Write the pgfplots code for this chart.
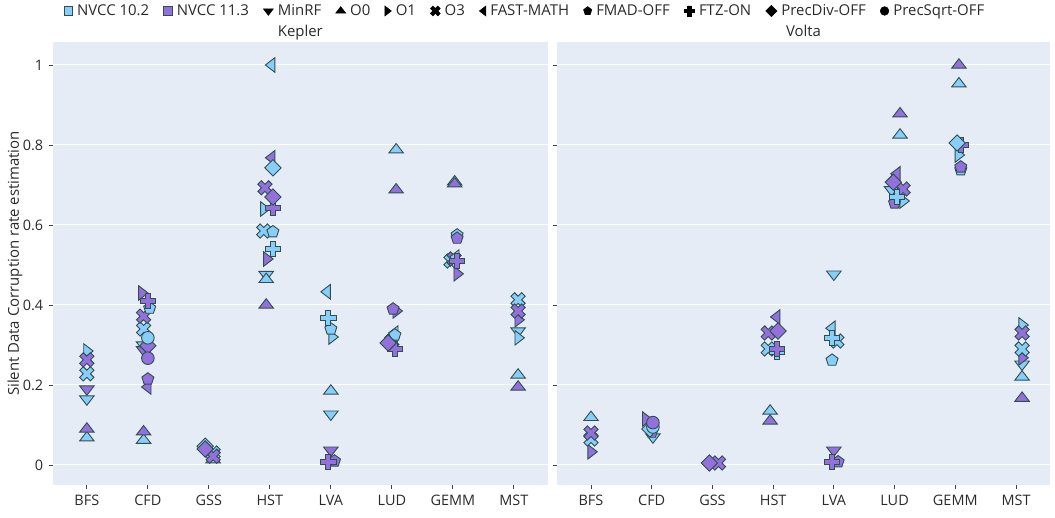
\documentclass[border=0pt]{standalone}
\usepackage{fontspec}
\setmainfont{Open Sans}
\usepackage{pgfplots}
\pgfplotsset{compat=1.18}
\definecolor{nvb}{HTML}{87CEFA}
\definecolor{nvp}{HTML}{9370DB}
\definecolor{outl}{HTML}{2F4F4F}
\definecolor{bgc}{HTML}{E5ECF6}
\definecolor{txt}{HTML}{2A2A2A}
\definecolor{tickc}{HTML}{444444}
\newcommand\MR[1]{#1\pgfplotmarksize}
\pgfdeclareplotmark{tdn}{\pgfpathmoveto{\pgfpoint{\MR{-1.1547}}{\MR{0.5}}}\pgfpathlineto{\pgfpoint{\MR{1.1547}}{\MR{0.5}}}\pgfpathlineto{\pgfpoint{0pt}{\MR{-1}}}\pgfpathclose\pgfusepathqfillstroke}
\pgfdeclareplotmark{tup}{\pgfpathmoveto{\pgfpoint{\MR{-1.1547}}{\MR{-0.5}}}\pgfpathlineto{\pgfpoint{\MR{1.1547}}{\MR{-0.5}}}\pgfpathlineto{\pgfpoint{0pt}{\MR{1}}}\pgfpathclose\pgfusepathqfillstroke}
\pgfdeclareplotmark{trt}{\pgfpathmoveto{\pgfpoint{\MR{-0.5}}{\MR{1.1547}}}\pgfpathlineto{\pgfpoint{\MR{-0.5}}{\MR{-1.1547}}}\pgfpathlineto{\pgfpoint{\MR{1}}{0pt}}\pgfpathclose\pgfusepathqfillstroke}
\pgfdeclareplotmark{tlt}{\pgfpathmoveto{\pgfpoint{\MR{0.5}}{\MR{1.1547}}}\pgfpathlineto{\pgfpoint{\MR{0.5}}{\MR{-1.1547}}}\pgfpathlineto{\pgfpoint{\MR{-1}}{0pt}}\pgfpathclose\pgfusepathqfillstroke}
\pgfdeclareplotmark{xsh}{\pgfpathmoveto{\pgfpoint{0pt}{\MR{0.566}}}%
\pgfpathlineto{\pgfpoint{\MR{-0.566}}{\MR{1.132}}}\pgfpathlineto{\pgfpoint{\MR{-1.132}}{\MR{0.566}}}%
\pgfpathlineto{\pgfpoint{\MR{-0.566}}{0pt}}\pgfpathlineto{\pgfpoint{\MR{-1.132}}{\MR{-0.566}}}%
\pgfpathlineto{\pgfpoint{\MR{-0.566}}{\MR{-1.132}}}\pgfpathlineto{\pgfpoint{0pt}{\MR{-0.566}}}%
\pgfpathlineto{\pgfpoint{\MR{0.566}}{\MR{-1.132}}}\pgfpathlineto{\pgfpoint{\MR{1.132}}{\MR{-0.566}}}%
\pgfpathlineto{\pgfpoint{\MR{0.566}}{0pt}}\pgfpathlineto{\pgfpoint{\MR{1.132}}{\MR{0.566}}}%
\pgfpathlineto{\pgfpoint{\MR{0.566}}{\MR{1.132}}}\pgfpathclose\pgfusepathqfillstroke}
\pgfdeclareplotmark{pls}{\pgfpathmoveto{\pgfpoint{\MR{1.2}}{\MR{0.4}}}%
\pgfpathlineto{\pgfpoint{\MR{0.4}}{\MR{0.4}}}\pgfpathlineto{\pgfpoint{\MR{0.4}}{\MR{1.2}}}%
\pgfpathlineto{\pgfpoint{\MR{-0.4}}{\MR{1.2}}}\pgfpathlineto{\pgfpoint{\MR{-0.4}}{\MR{0.4}}}%
\pgfpathlineto{\pgfpoint{\MR{-1.2}}{\MR{0.4}}}\pgfpathlineto{\pgfpoint{\MR{-1.2}}{\MR{-0.4}}}%
\pgfpathlineto{\pgfpoint{\MR{-0.4}}{\MR{-0.4}}}\pgfpathlineto{\pgfpoint{\MR{-0.4}}{\MR{-1.2}}}%
\pgfpathlineto{\pgfpoint{\MR{0.4}}{\MR{-1.2}}}\pgfpathlineto{\pgfpoint{\MR{0.4}}{\MR{-0.4}}}%
\pgfpathlineto{\pgfpoint{\MR{1.2}}{\MR{-0.4}}}\pgfpathclose\pgfusepathqfillstroke}
\pgfdeclareplotmark{pent}{\pgfpathmoveto{\pgfpoint{\MR{0.951}}{\MR{0.309}}}%
\pgfpathlineto{\pgfpoint{\MR{0.588}}{\MR{-0.809}}}\pgfpathlineto{\pgfpoint{\MR{-0.588}}{\MR{-0.809}}}%
\pgfpathlineto{\pgfpoint{\MR{-0.951}}{\MR{0.309}}}\pgfpathlineto{\pgfpoint{0pt}{\MR{1}}}\pgfpathclose\pgfusepathqfillstroke}
\pgfdeclareplotmark{dia}{\pgfpathmoveto{\pgfpoint{\MR{1.3}}{0pt}}\pgfpathlineto{\pgfpoint{0pt}{\MR{1.3}}}\pgfpathlineto{\pgfpoint{\MR{-1.3}}{0pt}}\pgfpathlineto{\pgfpoint{0pt}{\MR{-1.3}}}\pgfpathclose\pgfusepathqfillstroke}
\pgfdeclareplotmark{circ}{\pgfpathcircle{\pgfpointorigin}{\pgfplotmarksize}\pgfusepathqfillstroke}
\pgfdeclareplotmark{sq}{\pgfpathrectanglecorners{\pgfpoint{\MR{-1}}{\MR{-1}}}{\pgfpoint{\MR{1}}{\MR{1}}}\pgfusepathqfillstroke}

\newcommand\ser[3]{\addplot[only marks, forget plot, mark=#2, fill=#1, draw=outl, line width=0.9bp, mark size=6.3bp] coordinates {#3};}
\newcommand\lgimg[3]{\addlegendimage{only marks, mark=#1, fill=#2, draw=#3, line width=0.6bp, mark size=4.3bp}}

\pgfplotsset{
  base/.style={scale only axis, height=443bp,
    ymin=-0.05, ymax=1.0575, xmin=-0.56, xmax=7.56,
    xtick={0,1,2,3,4,5,6,7}, xticklabels={BFS,CFD,GSS,HST,LVA,LUD,GEMM,MST},
    ytick={0,0.2,0.4,0.6,0.8,1},
    ymajorgrids, grid style={white, line width=1bp},
    axis line style={draw=none},
    axis background/.style={fill=bgc},
    tick align=outside, major tick length=4bp,
    tick style={color=tickc, line width=0.8bp},
    xtick pos=bottom, ytick pos=left,
    /pgf/number format/assume math mode=true,
    ticklabel style={font=\fontsize{14.5}{17}\selectfont, text=txt},
    xticklabel style={yshift=-3bp},
    yticklabel style={xshift=-2bp},
    title style={at={(0.5,1)}, anchor=base, yshift=0bp, font=\fontsize{15}{18}\selectfont, text=txt},
    legend image code/.code={\draw[##1] plot coordinates {(0bp,0bp)};},
  }
}

\begin{document}
\begin{tikzpicture}
\useasboundingbox (-52.7bp,-33bp) rectangle (1002.3bp,485bp);
\begin{axis}[base, width=495.3bp, title={Kepler},
  ylabel={Silent Data Corruption rate estimation},
  ylabel style={at={(axis description cs:-0.076,0.5)}, anchor=center, font=\fontsize{15}{18}\selectfont, text=txt},
  legend columns=-1,
  legend style={at={(0.023,1.07)}, anchor=west, draw=none, fill=none, inner sep=0pt, outer sep=0pt,
    font=\fontsize{15}{18}\selectfont, text=txt,
    nodes={inner xsep=0pt, inner ysep=1bp},
    /tikz/every odd column/.append style={column sep=4.5bp},
    /tikz/every even column/.append style={column sep=14.5bp}},
]
\lgimg{sq}{nvb}{outl}\addlegendentry{NVCC 10.2}
\lgimg{sq}{nvp}{outl}\addlegendentry{NVCC 11.3}
\lgimg{tdn}{black}{black}\addlegendentry{MinRF}
\lgimg{tup}{black}{black}\addlegendentry{O0}
\lgimg{trt}{black}{black}\addlegendentry{O1}
\lgimg{xsh}{black}{black}\addlegendentry{O3}
\lgimg{tlt}{black}{black}\addlegendentry{FAST-MATH}
\lgimg{pent}{black}{black}\addlegendentry{FMAD-OFF}
\lgimg{pls}{black}{black}\addlegendentry{FTZ-ON}
\lgimg{dia}{black}{black}\addlegendentry{PrecDiv-OFF}
\lgimg{circ}{black}{black}\addlegendentry{PrecSqrt-OFF}
% MinRF
\ser{nvb}{tdn}{(0,0.165) (0.93,0.30) (2.94,0.476) (4,0.127) (7.07,0.335)}
\ser{nvp}{tdn}{(0,0.19) (0.93,0.288) (4,0.037)}
% O0
\ser{nvb}{tup}{(0,0.068) (0.93,0.062) (2.07,0.013) (2.94,0.464) (4,0.185) (5.07,0.788) (6.03,0.708) (7.07,0.225)}
\ser{nvp}{tup}{(0,0.09) (0.93,0.083) (2.94,0.40) (5.07,0.688) (6.03,0.703) (7.07,0.195)}
% O1
\ser{nvb}{trt}{(0,0.285) (2.9,0.64) (4.02,0.32) (7.07,0.318)}
\ser{nvp}{trt}{(0.9,0.43) (2.95,0.515) (5.07,0.385) (6.07,0.478) (7.07,0.363)}
% O3
\ser{nvb}{xsh}{(0,0.228) (0.93,0.34) (2.07,0.03) (2.9,0.585) (5.0,0.31) (5.97,0.51) (7.07,0.413)}
\ser{nvp}{xsh}{(0,0.263) (0.93,0.372) (2.07,0.022) (2.92,0.693) (6.02,0.515) (7.07,0.385)}
% FAST-MATH
\ser{nvb}{tlt}{(3.03,1.0) (3.94,0.433) (5.05,0.33) (6.05,0.52)}
\ser{nvp}{tlt}{(1.0,0.195) (3.03,0.768)}
% FMAD-OFF
\ser{nvb}{pent}{(1.03,0.392) (3.05,0.583) (4,0.34) (5.05,0.325) (6.07,0.575)}
\ser{nvp}{pent}{(1.0,0.215) (4.06,0.01) (5.02,0.39) (6.07,0.567)}
% FTZ-ON
\ser{nvb}{pls}{(3.05,0.54) (3.96,0.368)}
\ser{nvp}{pls}{(1.0,0.41) (3.05,0.643) (3.96,0.008) (5.05,0.29) (6.07,0.51)}
% PrecDiv-OFF
\ser{nvb}{dia}{(1.94,0.047) (3.05,0.743)}
\ser{nvp}{dia}{(1.0,0.298) (1.94,0.04) (3.05,0.67) (4.94,0.305)}
% PrecSqrt-OFF
\ser{nvb}{circ}{(1.0,0.318)}
\ser{nvp}{circ}{(1.0,0.267)}
\end{axis}

\begin{axis}[base, width=493bp, xshift=504.3bp, yticklabels={}, title={Volta}]
% MinRF
\ser{nvb}{tdn}{(1.02,0.07) (4,0.477) (4.95,0.688) (7.1,0.252)}
\ser{nvp}{tdn}{(4,0.037)}
% O0
\ser{nvb}{tup}{(0,0.119) (2.95,0.135) (5.09,0.825) (6.06,0.953) (7.1,0.22)}
\ser{nvp}{tup}{(2.95,0.11) (5.09,0.878) (6.06,1.0) (7.1,0.167)}
% O1
\ser{nvb}{trt}{(5.14,0.66) (6.05,0.775) (7.1,0.35)}
\ser{nvp}{trt}{(0,0.033) (0.9,0.115) (7.1,0.268)}
% O3
\ser{nvb}{xsh}{(0,0.065) (2.92,0.29) (4.05,0.31) (7.1,0.29)}
\ser{nvp}{xsh}{(0,0.08) (2.1,0.005) (2.92,0.33) (5.14,0.69) (7.1,0.33)}
% FAST-MATH
\ser{nvb}{tlt}{(3.97,0.342)}
\ser{nvp}{tlt}{(3.06,0.37) (5.04,0.728)}
% FMAD-OFF
\ser{nvb}{pent}{(1.0,0.088) (3.97,0.262) (6.09,0.738)}
\ser{nvp}{pent}{(1.0,0.082) (4.07,0.008) (5.0,0.655) (6.09,0.745)}
% FTZ-ON
\ser{nvb}{pls}{(3.06,0.283) (3.97,0.318) (5.04,0.67)}
\ser{nvp}{pls}{(3.06,0.29) (3.97,0.007) (6.1,0.80)}
% PrecDiv-OFF
\ser{nvb}{dia}{(0.97,0.09) (6.03,0.805)}
\ser{nvp}{dia}{(1.95,0.005) (3.08,0.335) (4.98,0.707)}
% PrecSqrt-OFF
\ser{nvb}{circ}{(1.02,0.095)}
\ser{nvp}{circ}{(1.02,0.106)}
\end{axis}
\end{tikzpicture}
\end{document}
